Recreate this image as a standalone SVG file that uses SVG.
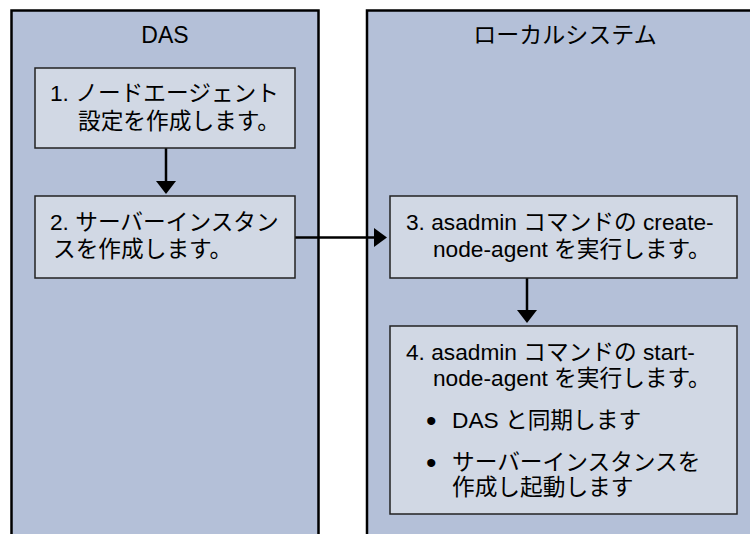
<svg xmlns="http://www.w3.org/2000/svg" width="750" height="534" viewBox="0 0 750 534">
<style>
  .panel { fill: #b4c0d8; stroke: #000; stroke-width: 2.5; }
  .box { fill: #d1d8e4; stroke: #222; stroke-width: 1.5; }
  text { font-family: "Liberation Sans", "Noto Sans CJK JP", sans-serif; font-size: 22.7px; fill: #000; }
  .hdr { text-anchor: middle; font-size: 23px; }
  .bul { font-size: 30px; }
  .conn { stroke: #000; stroke-width: 2.5; fill: none; }
  .head { fill: #000; stroke: none; }
</style>
<rect width="750" height="534" fill="#fff"/>
<g id="panel-das">
  <rect class="panel" x="11.5" y="10.5" width="307" height="540"/>
  <text class="hdr" x="165" y="43">DAS</text>
</g>
<g id="panel-local">
  <rect class="panel" x="367" y="10.5" width="400" height="540"/>
  <text class="hdr" x="565" y="43">ローカルシステム</text>
</g>
<g id="connectors">
  <line class="conn" x1="166" y1="148" x2="166" y2="183"/>
  <polygon class="head" points="156,181 176,181 166,194"/>
  <line class="conn" x1="295" y1="237.5" x2="376" y2="237.5"/>
  <polygon class="head" points="374,228 374,247 387,237.5"/>
  <line class="conn" x1="527" y1="278" x2="527" y2="312"/>
  <polygon class="head" points="517,310 537,310 527,323"/>
</g>
<g id="node1">
  <rect class="box" x="35" y="68" width="260" height="80"/>
  <text x="50" y="101">1. ノードエージェント</text>
  <text x="78" y="129">設定を作成します。</text>
</g>
<g id="node2">
  <rect class="box" x="35" y="196" width="260" height="82"/>
  <text x="50" y="230">2. サーバーインスタン</text>
  <text x="53" y="257">スを作成します。</text>
</g>
<g id="node3">
  <rect class="box" x="390" y="196" width="347" height="82"/>
  <text x="406" y="230">3. asadmin コマンドの create-</text>
  <text x="433" y="257">node-agent を実行します。</text>
</g>
<g id="node4">
  <rect class="box" x="390" y="326" width="347" height="188"/>
  <text x="406" y="360">4. asadmin コマンドの start-</text>
  <text x="433" y="386">node-agent を実行します。</text>
  <text class="bul" x="426" y="431">•</text>
  <text x="452" y="428">DAS と同期します</text>
  <text class="bul" x="426" y="473">•</text>
  <text x="452" y="470">サーバーインスタンスを</text>
  <text x="452" y="495">作成し起動します</text>
</g>
</svg>
